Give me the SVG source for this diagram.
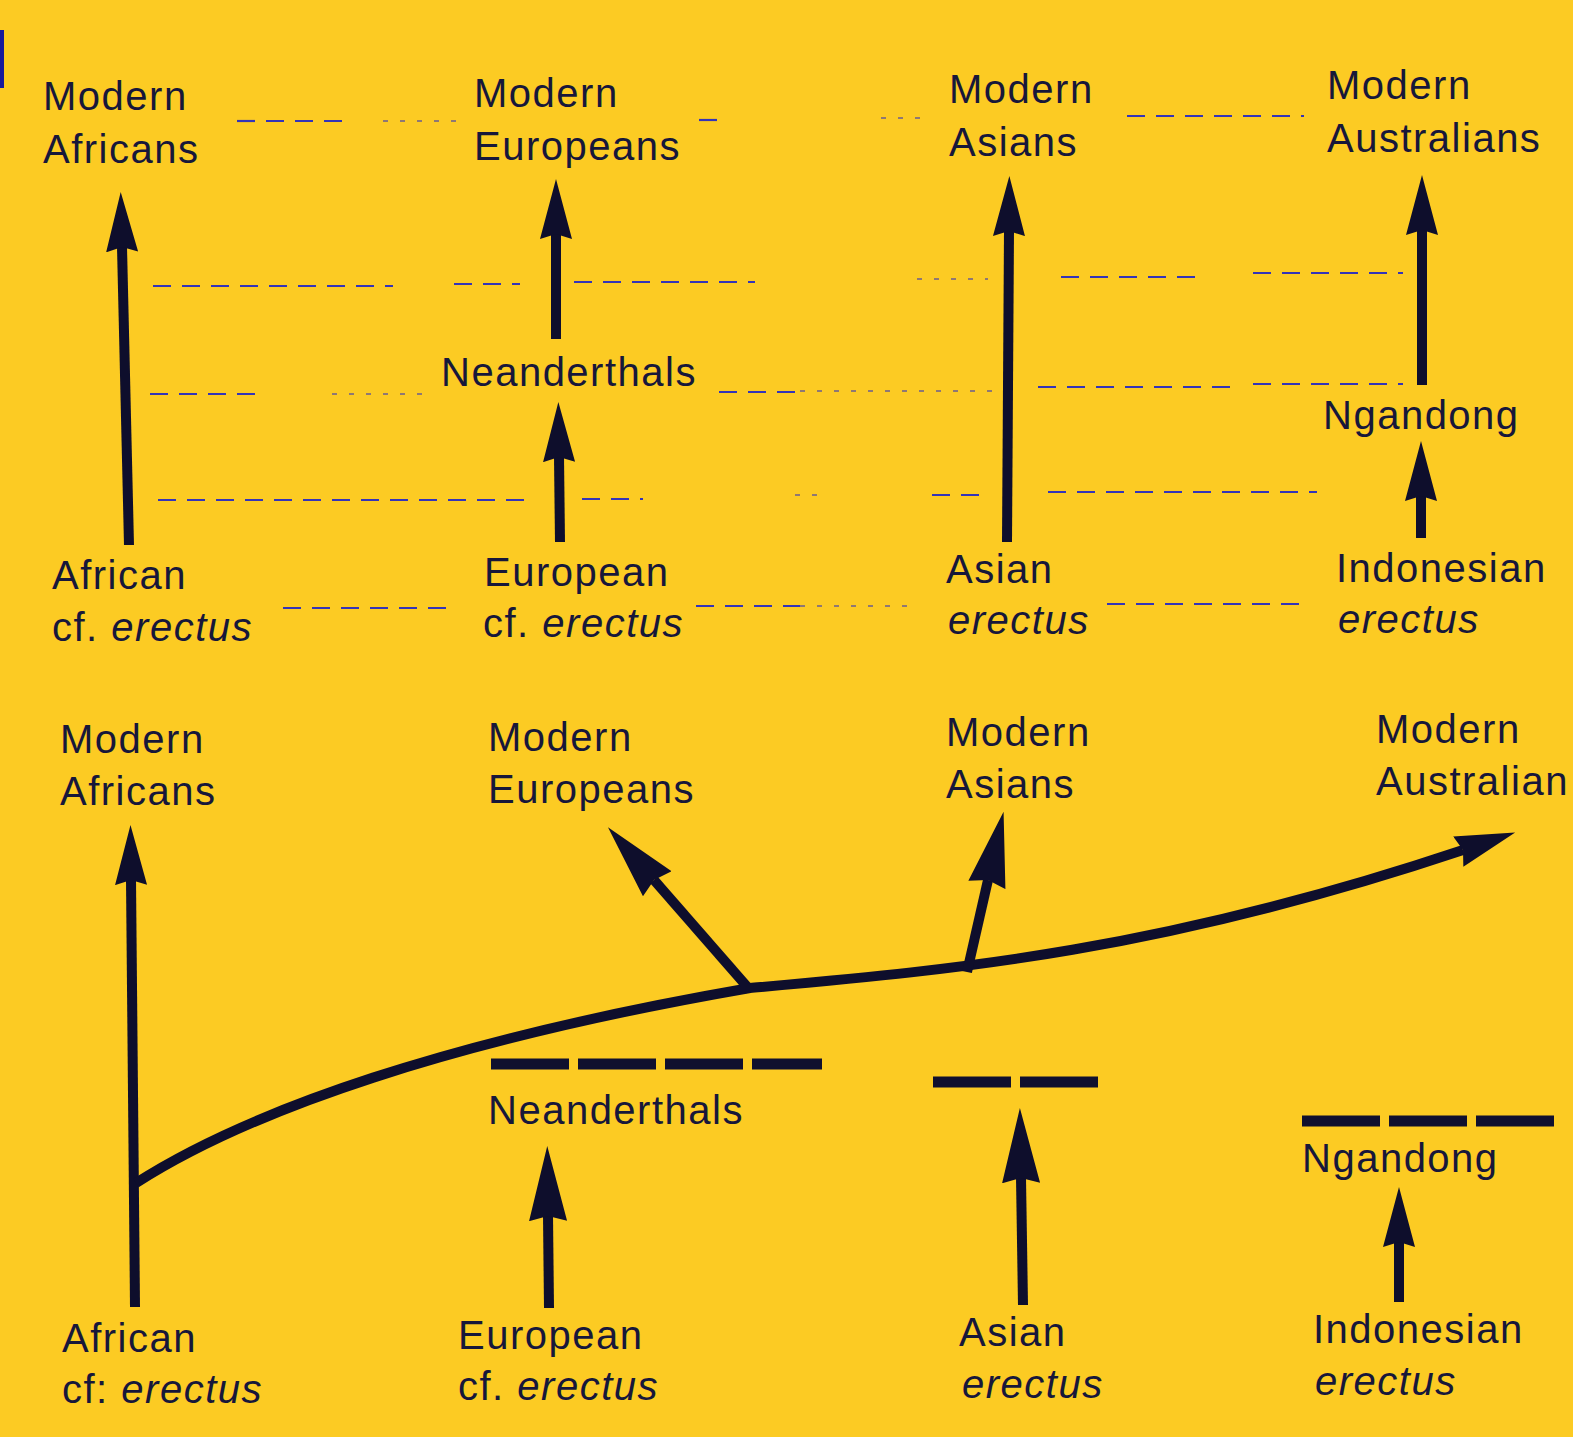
<svg xmlns="http://www.w3.org/2000/svg" width="1573" height="1437" viewBox="0 0 1573 1437">
  <defs>
    <style>
      .lbl { font-family: "Liberation Sans", Arial, sans-serif; font-size: 40px; letter-spacing: 1.5px; fill: #17173a; }
      .it { font-style: italic; }
      .shaft { fill: none; stroke: #0e0e2c; stroke-width: 10; stroke-linecap: butt; }
      .lvl { fill: none; stroke: #3434b8; stroke-width: 2.2; }
      .dash { stroke-dasharray: 18 11; }
      .dot { stroke-dasharray: 5 12; opacity: 0.55; }
      .bar { fill: none; stroke: #10102e; stroke-width: 11; stroke-dasharray: 78 9; }
    </style>
    <marker id="head" viewBox="0 -17 60 34" markerWidth="60" markerHeight="34" refX="5" refY="0" orient="auto" markerUnits="userSpaceOnUse">
      <path d="M0,-16 L60,0 L0,16 L5,0 Z" fill="#0e0e2c"/>
    </marker>
    <marker id="headL" viewBox="0 -20 75 40" markerWidth="75" markerHeight="40" refX="5" refY="0" orient="auto" markerUnits="userSpaceOnUse">
      <path d="M0,-19 L75,0 L0,19 L5,0 Z" fill="#0e0e2c"/>
    </marker>
  </defs>

  <rect x="0" y="0" width="1573" height="1437" fill="#fccb23"/>
  <rect x="0" y="30" width="4" height="58" fill="#1a1a9c"/>

  <!-- time levels of the regional-continuity model -->
  <g id="levels">
    <line class="lvl dash" x1="237" y1="121" x2="352" y2="121"/>
    <line class="lvl dot" x1="383" y1="121" x2="459" y2="121"/>
    <line class="lvl dash" x1="699" y1="120" x2="724" y2="120"/>
    <line class="lvl dot" x1="881" y1="118" x2="927" y2="118"/>
    <line class="lvl dash" x1="1127" y1="116" x2="1304" y2="116"/>

    <line class="lvl dash" x1="153" y1="286" x2="393" y2="286"/>
    <line class="lvl dash" x1="454" y1="284" x2="520" y2="284"/>
    <line class="lvl dash" x1="574" y1="282" x2="755" y2="282"/>
    <line class="lvl dot" x1="917" y1="279" x2="988" y2="279"/>
    <line class="lvl dash" x1="1061" y1="277" x2="1195" y2="277"/>
    <line class="lvl dash" x1="1253" y1="273" x2="1403" y2="273"/>

    <line class="lvl dash" x1="150" y1="394" x2="263" y2="394"/>
    <line class="lvl dot" x1="332" y1="394" x2="423" y2="394"/>
    <line class="lvl dash" x1="719" y1="392" x2="800" y2="392"/>
    <line class="lvl dot" x1="800" y1="391" x2="998" y2="391"/>
    <line class="lvl dash" x1="1038" y1="387" x2="1236" y2="387"/>
    <line class="lvl dash" x1="1253" y1="384" x2="1403" y2="384"/>

    <line class="lvl dash" x1="158" y1="500" x2="530" y2="500"/>
    <line class="lvl dash" x1="582" y1="499" x2="643" y2="499"/>
    <line class="lvl dot" x1="795" y1="495" x2="820" y2="495"/>
    <line class="lvl dash" x1="932" y1="495" x2="988" y2="495"/>
    <line class="lvl dash" x1="1048" y1="492" x2="1317" y2="492"/>

    <line class="lvl dash" x1="283" y1="608" x2="454" y2="608"/>
    <line class="lvl dash" x1="696" y1="606" x2="800" y2="606"/>
    <line class="lvl dot" x1="800" y1="606" x2="914" y2="606"/>
    <line class="lvl dash" x1="1107" y1="604" x2="1301" y2="604"/>
  </g>

  <!-- lineage arrows -->
  <g id="connectors">
    <!-- upper panel -->
    <line class="shaft" x1="129" y1="545" x2="122" y2="247" marker-end="url(#head)"/>
    <line class="shaft" x1="556" y1="339" x2="556" y2="234" marker-end="url(#head)"/>
    <line class="shaft" x1="560" y1="542" x2="559" y2="457" marker-end="url(#head)"/>
    <line class="shaft" x1="1007" y1="542" x2="1009" y2="231" marker-end="url(#head)"/>
    <line class="shaft" x1="1422" y1="385" x2="1422" y2="230" marker-end="url(#head)"/>
    <line class="shaft" x1="1421" y1="538" x2="1421" y2="496" marker-end="url(#head)"/>

    <!-- lower panel -->
    <line class="shaft" x1="135" y1="1307" x2="131" y2="880" marker-end="url(#head)"/>
    <path class="shaft" d="M136,1183 C250,1110 450,1040 750,988 C950,970 1155,953 1463,850" marker-end="url(#head)"/>
    <line class="shaft" x1="750" y1="990" x2="654" y2="880" marker-end="url(#headL)"/>
    <line class="shaft" x1="967" y1="972" x2="988" y2="880" marker-end="url(#headL)"/>
    <line class="shaft" x1="549" y1="1308" x2="548" y2="1216" marker-end="url(#headL)"/>
    <line class="shaft" x1="1023" y1="1305" x2="1021" y2="1178" marker-end="url(#headL)"/>
    <line class="shaft" x1="1399" y1="1302" x2="1399" y2="1242" marker-end="url(#head)"/>

    <!-- extinction bars -->
    <line class="bar" x1="491" y1="1064" x2="822" y2="1064"/>
    <line class="bar" x1="933" y1="1082" x2="1100" y2="1082"/>
    <line class="bar" x1="1302" y1="1121" x2="1556" y2="1121"/>
  </g>

  <!-- upper panel labels -->
  <g id="up-modern-africans"><text class="lbl" x="43" y="110">Modern</text><text class="lbl" x="43" y="163">Africans</text></g>
  <g id="up-modern-europeans"><text class="lbl" x="474" y="107">Modern</text><text class="lbl" x="474" y="160">Europeans</text></g>
  <g id="up-modern-asians"><text class="lbl" x="949" y="103">Modern</text><text class="lbl" x="949" y="156">Asians</text></g>
  <g id="up-modern-australians"><text class="lbl" x="1327" y="99">Modern</text><text class="lbl" x="1327" y="152">Australians</text></g>
  <g id="up-neanderthals"><text class="lbl" x="441" y="386">Neanderthals</text></g>
  <g id="up-ngandong"><text class="lbl" x="1323" y="429">Ngandong</text></g>
  <g id="up-african-erectus"><text class="lbl" x="52" y="589">African</text><text class="lbl" x="52" y="641">cf. <tspan class="it">erectus</tspan></text></g>
  <g id="up-european-erectus"><text class="lbl" x="484" y="586">European</text><text class="lbl" x="483" y="637">cf. <tspan class="it">erectus</tspan></text></g>
  <g id="up-asian-erectus"><text class="lbl" x="946" y="583">Asian</text><text class="lbl it" x="948" y="634">erectus</text></g>
  <g id="up-indonesian-erectus"><text class="lbl" x="1336" y="582">Indonesian</text><text class="lbl it" x="1338" y="633">erectus</text></g>

  <!-- lower panel labels -->
  <g id="lo-modern-africans"><text class="lbl" x="60" y="753">Modern</text><text class="lbl" x="60" y="805">Africans</text></g>
  <g id="lo-modern-europeans"><text class="lbl" x="488" y="751">Modern</text><text class="lbl" x="488" y="803">Europeans</text></g>
  <g id="lo-modern-asians"><text class="lbl" x="946" y="746">Modern</text><text class="lbl" x="946" y="798">Asians</text></g>
  <g id="lo-modern-australian"><text class="lbl" x="1376" y="743">Modern</text><text class="lbl" x="1376" y="795">Australian</text></g>
  <g id="lo-neanderthals"><text class="lbl" x="488" y="1124">Neanderthals</text></g>
  <g id="lo-ngandong"><text class="lbl" x="1302" y="1172">Ngandong</text></g>
  <g id="lo-african-erectus"><text class="lbl" x="62" y="1352">African</text><text class="lbl" x="62" y="1403">cf: <tspan class="it">erectus</tspan></text></g>
  <g id="lo-european-erectus"><text class="lbl" x="458" y="1349">European</text><text class="lbl" x="458" y="1400">cf. <tspan class="it">erectus</tspan></text></g>
  <g id="lo-asian-erectus"><text class="lbl" x="959" y="1346">Asian</text><text class="lbl it" x="962" y="1398">erectus</text></g>
  <g id="lo-indonesian-erectus"><text class="lbl" x="1313" y="1343">Indonesian</text><text class="lbl it" x="1315" y="1395">erectus</text></g>
</svg>
